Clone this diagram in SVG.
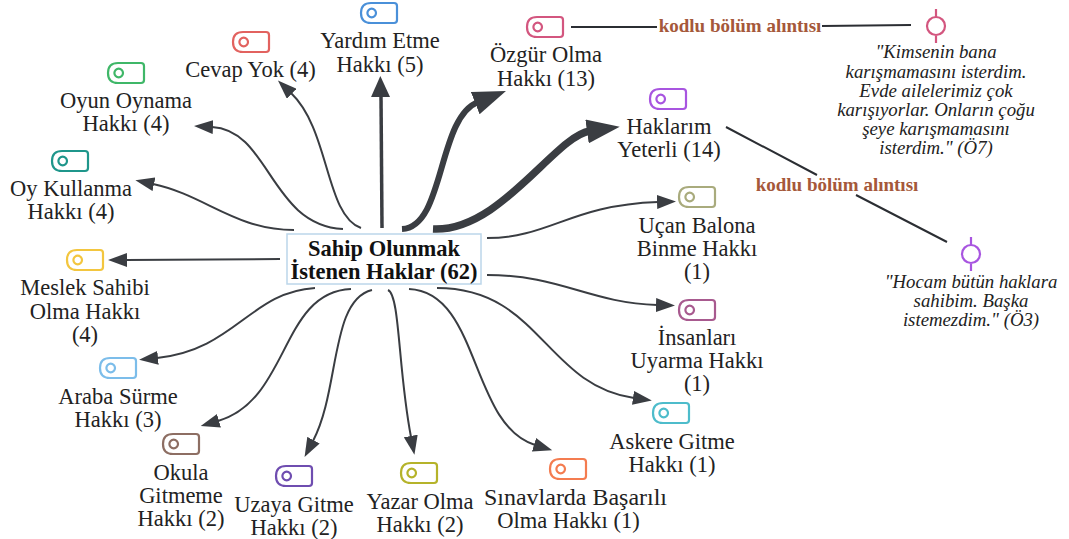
<svg xmlns="http://www.w3.org/2000/svg" width="1069" height="539" viewBox="0 0 1069 539">
<style>
text{font-family:"Liberation Serif","Times New Roman",serif;fill:#222;text-anchor:middle;transform:translateY(1px)}
.l{font-size:22.500px}
.q{font-size:18.800px;font-style:italic}
.c{font-size:22.500px;font-weight:bold;fill:#111}
.k{font-size:19px;font-weight:bold;fill:#a5583a}
.e{fill:none;stroke:#3a3d42;stroke-width:2}
.p{fill:none;stroke:#2b2e33;stroke-width:2}
.tag{fill:none;stroke-width:2.2}
</style>
<defs>
<marker id="a1" markerUnits="userSpaceOnUse" markerWidth="22" markerHeight="14" refX="1" refY="7" orient="auto"><path d="M0,0L19,7L0,14Z" fill="#3a3d42"/></marker>
<marker id="a2" markerUnits="userSpaceOnUse" markerWidth="22" markerHeight="20" refX="1" refY="10" orient="auto"><path d="M0,0L21,9.500L0,19Z" fill="#3a3d42"/></marker>
<marker id="a3" markerUnits="userSpaceOnUse" markerWidth="34" markerHeight="24" refX="3" refY="12" orient="auto"><path d="M0,0L33,12L0,24Z" fill="#3a3d42"/></marker>
<path id="tag" d="M10,0H33Q36,0 36,3V17Q36,20 33,20H10Q0,20 0,10Q0,0 10,0ZM15,10A4.3,4.3 0 1 0 6.400,10A4.3,4.3 0 1 0 15,10Z"/>
<path id="pin" d="M0,-17V-9M0,9V17M9,0A9,9 0 1 0 -9,0A9,9 0 1 0 9,0Z"/>
</defs>
<g id="connectors">
<path class="e" marker-end="url(#a1)" d="M361,228C325,215 330,130 291,93"/>
<path class="e" marker-end="url(#a1)" d="M343,229C270,225 270,130 212,127"/>
<path class="e" marker-end="url(#a1)" d="M294,230C235,230 205,195 153,184"/>
<path class="e" marker-end="url(#a1)" d="M280,259L126,260"/>
<path class="e" marker-end="url(#a1)" d="M315,288C250,292 235,350 157,358"/>
<path class="e" marker-end="url(#a1)" d="M351,289C280,292 290,400 218,421"/>
<path class="e" marker-end="url(#a1)" d="M372,290C330,300 340,390 313,441"/>
<path class="e" marker-end="url(#a1)" d="M388,290C400,295 398,370 411,437"/>
<path class="e" marker-end="url(#a1)" d="M409,289C480,292 470,425 535,445"/>
<path class="e" marker-end="url(#a1)" d="M437,288C540,288 545,385 634,398"/>
<path class="e" marker-end="url(#a1)" d="M487,275C560,275 590,303 657,305"/>
<path class="e" marker-end="url(#a1)" d="M487,238C550,238 570,205 658,202"/>
<path class="e" style="stroke-width:3.500" marker-end="url(#a2)" d="M382,228L381,96"/>
<path class="e" style="stroke-width:6" marker-end="url(#a3)" d="M402,229C445,227 437,118 478,102"/>
<path class="e" style="stroke-width:7.500" marker-end="url(#a3)" d="M433,229C500,232 555,136 590,131"/>
<path class="p" d="M571,27H657M822,26L911,25M726,127L817,175M856,195L947,242"/>
</g>
<g id="center"><rect x="287" y="234" width="194" height="50" fill="#fff" stroke="#bcd6ea" stroke-width="1.500"/><text class="c" x="384" y="255">Sahip Olunmak</text><text class="c" x="384" y="278">İstenen Haklar (62)</text></g>
<g id="n-yardim"><use href="#tag" class="tag" x="361" y="3" stroke="#4a90d9"/><text class="l" x="380" y="47">Yardım Etme</text><text class="l" x="380" y="71">Hakkı (5)</text></g>
<g id="n-cevap"><use href="#tag" class="tag" x="233" y="32" stroke="#e2625f"/><text class="l" x="250.500" y="76">Cevap Yok (4)</text></g>
<g id="n-oyun"><use href="#tag" class="tag" x="108" y="63" stroke="#3fb768"/><text class="l" x="126" y="107">Oyun Oynama</text><text class="l" x="126" y="130">Hakkı (4)</text></g>
<g id="n-oy"><use href="#tag" class="tag" x="52" y="151" stroke="#1f968b"/><text class="l" x="71" y="195">Oy Kullanma</text><text class="l" x="71" y="218">Hakkı (4)</text></g>
<g id="n-meslek"><use href="#tag" class="tag" x="67" y="250" stroke="#f3c63f"/><text class="l" x="85" y="294">Meslek Sahibi</text><text class="l" x="85" y="318">Olma Hakkı</text><text class="l" x="85" y="341">(4)</text></g>
<g id="n-araba"><use href="#tag" class="tag" x="100" y="358" stroke="#7cbdea"/><text class="l" x="118" y="403">Araba Sürme</text><text class="l" x="118" y="426">Hakkı (3)</text></g>
<g id="n-okula"><use href="#tag" class="tag" x="163" y="434" stroke="#8d6e63"/><text class="l" x="181" y="479">Okula</text><text class="l" x="181" y="502">Gitmeme</text><text class="l" x="181" y="525">Hakkı (2)</text></g>
<g id="n-uzaya"><use href="#tag" class="tag" x="276" y="466" stroke="#6f4db0"/><text class="l" x="294" y="511">Uzaya Gitme</text><text class="l" x="294" y="534">Hakkı (2)</text></g>
<g id="n-yazar"><use href="#tag" class="tag" x="401" y="463" stroke="#b5b32a"/><text class="l" x="420" y="508">Yazar Olma</text><text class="l" x="420" y="531">Hakkı (2)</text></g>
<g id="n-sinav"><use href="#tag" class="tag" x="550" y="459" stroke="#f47c50"/><text class="l" x="575.500" y="504" textLength="183" lengthAdjust="spacingAndGlyphs">Sınavlarda Başarılı</text><text class="l" x="568.500" y="527">Olma Hakkı (1)</text></g>
<g id="n-askere"><use href="#tag" class="tag" x="653" y="403" stroke="#4dbccb"/><text class="l" x="672" y="448">Askere Gitme</text><text class="l" x="672" y="471">Hakkı (1)</text></g>
<g id="n-insan"><use href="#tag" class="tag" x="679" y="300" stroke="#a85a8f"/><text class="l" x="697" y="344">İnsanları</text><text class="l" x="697" y="367">Uyarma Hakkı</text><text class="l" x="697" y="390">(1)</text></g>
<g id="n-ucan"><use href="#tag" class="tag" x="679" y="187" stroke="#a9ab7d"/><text class="l" x="697" y="232">Uçan Balona</text><text class="l" x="697" y="255">Binme Hakkı</text><text class="l" x="697" y="278">(1)</text></g>
<g id="n-haklarim"><use href="#tag" class="tag" x="650" y="89" stroke="#a855e0"/><text class="l" x="669" y="133">Haklarım</text><text class="l" x="669" y="156">Yeterli (14)</text></g>
<g id="n-ozgur"><use href="#tag" class="tag" x="527" y="17" stroke="#d3567f"/><text class="l" x="546" y="61">Özgür Olma</text><text class="l" x="546" y="85">Hakkı (13)</text></g>
<g id="q-o7"><use href="#pin" class="tag" x="936" y="26" stroke="#d3567f"/><text class="q" x="936" y="57">"Kimsenin bana</text><text class="q" x="936" y="77">karışmamasını isterdim.</text><text class="q" x="936" y="96">Evde ailelerimiz çok</text><text class="q" x="936" y="115">karışıyorlar. Onların çoğu</text><text class="q" x="936" y="134">şeye karışmamasını</text><text class="q" x="936" y="153">isterdim." (Ö7)</text></g>
<g id="q-o3"><use href="#pin" class="tag" x="971" y="254" stroke="#a855e0"/><text class="q" x="971" y="287">"Hocam bütün haklara</text><text class="q" x="971" y="306">sahibim. Başka</text><text class="q" x="971" y="325">istemezdim." (Ö3)</text></g>
<text class="k" x="740" y="31">kodlu bölüm alıntısı</text>
<text class="k" x="837" y="190">kodlu bölüm alıntısı</text>
</svg>
